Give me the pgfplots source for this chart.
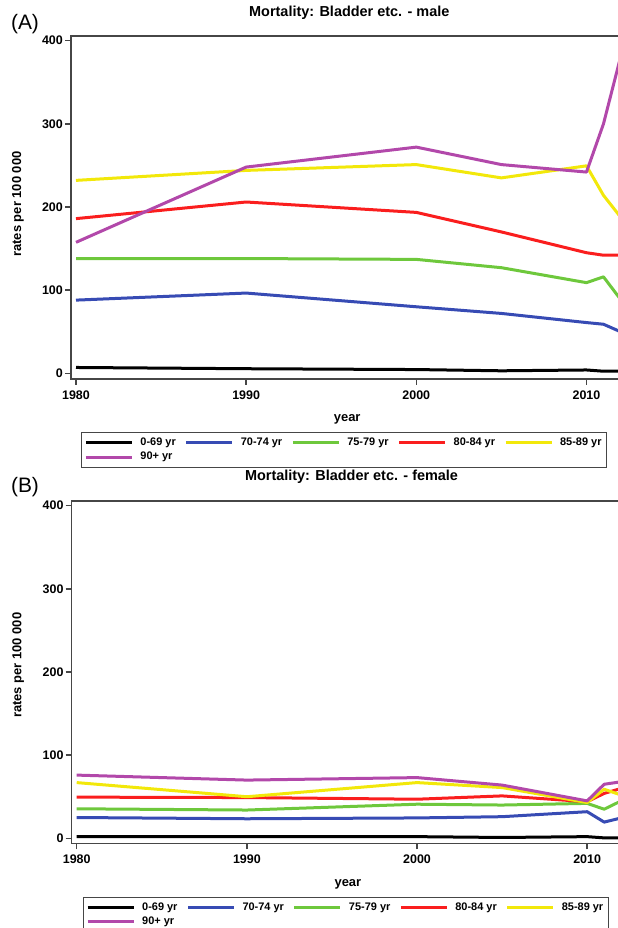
\documentclass[border=0pt]{standalone}
\usepackage{fontspec}
\setmainfont{Liberation Sans}
\usepackage{pgfplots}
\pgfplotsset{compat=1.18}
\definecolor{cblack}{RGB}{0,0,0}
\definecolor{cblue}{RGB}{55,75,180}
\definecolor{cgreen}{RGB}{110,200,60}
\definecolor{cred}{RGB}{250,30,30}
\definecolor{cyellow}{RGB}{242,232,10}
\definecolor{cpurple}{RGB}{178,72,170}
\definecolor{axgray}{RGB}{70,70,70}

\pgfplotsset{
  legend image code/.code={\draw[#1, line width=3bp] (0bp,0bp) -- (46bp,0bp);},
  panel/.style={
    scale only axis, width=558bp,
    xmin=1979.706, xmax=2012.5,
    xtick={1980,1990,2000,2010},
    ytick={0,100,200,300,400},
    axis line style={axgray, line width=1.5bp},
    tick style={axgray, line width=1.5bp},
    major tick length=6bp,
    tick align=outside,
    xtick pos=bottom, ytick pos=left,
    no markers,
    /pgf/number format/assume math mode=true,
    /pgf/number format/1000 sep={},
    ticklabel style={font=\fontsize{12.5}{14}\selectfont\bfseries},
    xticklabel style={yshift=-2bp},
    yticklabel style={inner sep=2bp},
    every axis plot/.append style={line width=3bp, line join=round},
    ylabel={rates per 100 000},
    xlabel={year},
    label style={font=\fontsize{13}{15}\selectfont\bfseries},
    title style={font=\fontsize{14.5}{17}\selectfont\bfseries, anchor=center},
    legend columns=5,
    legend cell align=left,
    legend style={draw=axgray, line width=1bp, anchor=north west,
      font=\fontsize{11}{13}\selectfont\bfseries, inner sep=3bp,
      /tikz/every odd column/.append style={column sep=5bp},
      /tikz/every even column/.append style={column sep=7bp},
      nodes={inner sep=2bp, text height=8bp, text depth=2.5bp}},
  }
}

\begin{document}
\begin{tikzpicture}
\useasboundingbox (0,0) rectangle (618bp,928bp);
\clip (0,0) rectangle (618bp,928bp);

% ---------- Panel A ----------
\begin{axis}[panel,
  at={(71bp,549bp)}, anchor=south west, height=343bp,
  ymin=-6.85, ymax=405.65,
  title={Mortality: Bladder etc. - male},
  title style={at={(axis description cs:0.4987,1.0496)}},
  xlabel style={at={(axis description cs:0.495,-0.1166)}, anchor=center},
  ylabel style={at={(axis description cs:-0.095,0.51)}, anchor=center},
  legend style={at={(axis description cs:0.0179,-0.1545)}},
]
\addplot[cblack] coordinates {(1980,7) (1990,5.5) (2000,4.5) (2005,3) (2010,4) (2011,2.5) (2012,2.5)};
\addlegendentry{0-69 yr}
\addplot[cblue] coordinates {(1980,88) (1990,96.5) (2000,80) (2005,72) (2010,61) (2011,59) (2012,50)};
\addlegendentry{70-74 yr}
\addplot[cgreen] coordinates {(1980,138) (1990,138) (2000,137) (2005,127) (2010,109) (2011,116) (2012,89)};
\addlegendentry{75-79 yr}
\addplot[cred] coordinates {(1980,186) (1990,206) (2000,193.5) (2005,170) (2010,145) (2011,142) (2012,142)};
\addlegendentry{80-84 yr}
\addplot[cyellow] coordinates {(1980,232) (1990,244) (2000,251) (2005,235) (2010,249.5) (2011,214) (2012,188)};
\addlegendentry{85-89 yr}
\addplot[cpurple] coordinates {(1980,157.5) (1990,248) (2000,272) (2005,251) (2010,242) (2011,300) (2012,380)};
\addlegendentry{90+ yr}
\end{axis}

% ---------- Panel B ----------
\begin{axis}[panel,
  at={(71.7bp,84.7bp)}, anchor=south west, height=342.3bp,
  ymin=-6.0, ymax=405.6,
  title={Mortality: Bladder etc. - female},
  title style={at={(axis description cs:0.5015,1.0526)}},
  xlabel style={at={(axis description cs:0.495,-0.119)}, anchor=center},
  ylabel style={at={(axis description cs:-0.096,0.52)}, anchor=center},
  legend style={at={(axis description cs:0.0197,-0.156)}},
]
\addplot[cblack] coordinates {(1980,2) (1990,2) (2000,2) (2005,1) (2010,2) (2011,0.5) (2012,0.5)};
\addlegendentry{0-69 yr}
\addplot[cblue] coordinates {(1980,25) (1990,23.5) (2000,24.5) (2005,26) (2010,32) (2011,19.5) (2012,24.5)};
\addlegendentry{70-74 yr}
\addplot[cgreen] coordinates {(1980,35.5) (1990,34) (2000,41) (2005,40) (2010,42) (2011,35) (2012,45)};
\addlegendentry{75-79 yr}
\addplot[cred] coordinates {(1980,49.5) (1990,49) (2000,47) (2005,51) (2010,44) (2011,54) (2012,60)};
\addlegendentry{80-84 yr}
\addplot[cyellow] coordinates {(1980,67) (1990,50) (2000,67) (2005,61) (2010,43) (2011,59) (2012,52)};
\addlegendentry{85-89 yr}
\addplot[cpurple] coordinates {(1980,76) (1990,70) (2000,73) (2005,64) (2010,45) (2011,65) (2012,68)};
\addlegendentry{90+ yr}
\end{axis}

\node[font=\fontsize{21}{24}\selectfont, anchor=center] at (25bp,904bp) {(A)};
\node[font=\fontsize{21}{24}\selectfont, anchor=center] at (25bp,441bp) {(B)};
\end{tikzpicture}
\end{document}
